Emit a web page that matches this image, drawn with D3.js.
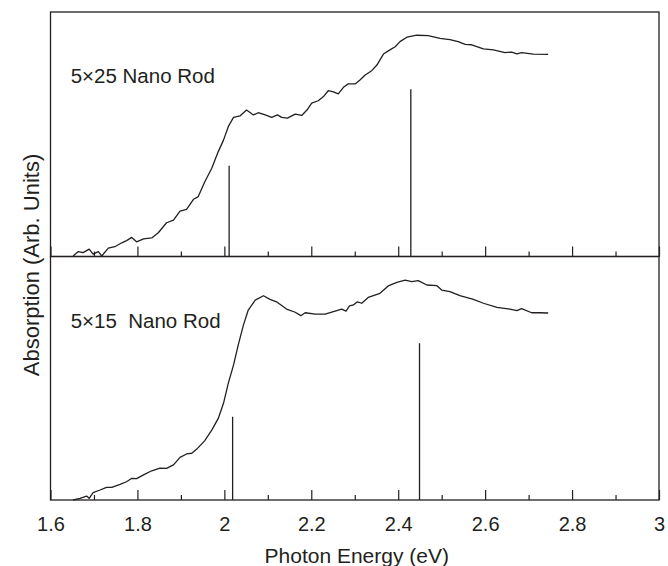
<!DOCTYPE html>
<html>
<head>
<meta charset="utf-8">
<script src="https://cdn.jsdelivr.net/npm/d3@7"></script>
<style>
  html, body { margin: 0; padding: 0; background: #fff; }
  svg { display: block; }
  text { font-family: "Liberation Sans", Arial, Helvetica, sans-serif; fill: #231f20; }
</style>
</head>
<body>
<svg id="chart" width="668" height="566"></svg>
<script>
// ---- data ----
const energyTop = [1.652,1.664,1.675,1.689,1.698,1.71,1.718,1.733,1.748,1.764,1.775,1.787,1.798,1.814,1.833,1.848,1.867,1.883,1.898,1.913,1.929,1.94,1.955,1.971,1.986,1.998,2.009,2.021,2.036,2.051,2.067,2.078,2.094,2.109,2.122,2.132,2.145,2.163,2.178,2.19,2.201,2.216,2.228,2.239,2.251,2.262,2.274,2.285,2.301,2.312,2.324,2.339,2.351,2.366,2.381,2.393,2.404,2.42,2.443,2.469,2.496,2.519,2.538,2.554,2.569,2.596,2.619,2.646,2.661,2.673,2.684,2.711,2.745];
const absorptionTop = [0.002,0.02,0.016,0.03,0.01,0.02,0.002,0.034,0.04,0.056,0.065,0.078,0.06,0.072,0.076,0.097,0.138,0.149,0.186,0.193,0.234,0.245,0.306,0.361,0.429,0.476,0.531,0.569,0.575,0.599,0.579,0.588,0.579,0.569,0.579,0.569,0.566,0.582,0.577,0.599,0.627,0.637,0.654,0.678,0.673,0.665,0.692,0.706,0.706,0.722,0.742,0.76,0.783,0.828,0.845,0.858,0.879,0.897,0.905,0.903,0.892,0.887,0.879,0.868,0.866,0.849,0.845,0.834,0.836,0.829,0.834,0.828,0.827];

const energyBottom = [1.652,1.668,1.683,1.689,1.698,1.714,1.729,1.741,1.76,1.775,1.787,1.798,1.814,1.833,1.852,1.867,1.883,1.898,1.913,1.925,1.936,1.955,1.971,1.986,1.998,2.009,2.021,2.032,2.044,2.055,2.071,2.09,2.105,2.12,2.143,2.163,2.176,2.186,2.209,2.232,2.251,2.27,2.28,2.288,2.297,2.306,2.316,2.331,2.358,2.377,2.397,2.416,2.431,2.446,2.466,2.489,2.5,2.519,2.542,2.573,2.596,2.627,2.657,2.673,2.684,2.707,2.726,2.745];
const absorptionBottom = [0,0.007,0.016,0.007,0.03,0.041,0.052,0.052,0.064,0.075,0.089,0.088,0.103,0.12,0.131,0.13,0.144,0.175,0.189,0.192,0.208,0.244,0.287,0.335,0.397,0.479,0.554,0.637,0.719,0.78,0.821,0.839,0.824,0.814,0.784,0.771,0.757,0.769,0.763,0.763,0.774,0.784,0.776,0.797,0.801,0.814,0.808,0.832,0.849,0.879,0.894,0.903,0.897,0.901,0.883,0.88,0.862,0.856,0.839,0.824,0.808,0.791,0.784,0.778,0.786,0.769,0.769,0.768];

const stickEnergyTop = [2.011, 2.429];
const stickHeightTop = [0.371, 0.684];
const stickEnergyBottom = [2.019, 2.449];
const stickHeightBottom = [0.342, 0.644];

const majorTicks = [1.6,1.8,2.0,2.2,2.4,2.6,2.8,3.0];
const majorTickLabels = ["1.6","1.8","2","2.2","2.4","2.6","2.8","3"];
const minorTicks = [1.7,1.9,2.1,2.3,2.5,2.7,2.9];

const panelLabels = ["5\u00d725 Nano Rod", "5\u00d715\u00a0 Nano Rod"];

// ---- layout ----
(function () {
const svg = d3.select("#chart");
const mLeft = 50.5, mRight = 659, mTop = 12, mMid = 256.5, mBottom = 500;
const ink = "#231f20";

const x = d3.scaleLinear().domain([1.6, 3.0]).range([mLeft, mRight]);
const yTop = d3.scaleLinear().domain([0, 1]).range([mMid, mTop]);
const yBot = d3.scaleLinear().domain([0, 1]).range([mBottom, mMid]);

const panels = [
  {y: yTop, e: energyTop, a: absorptionTop, se: stickEnergyTop, sh: stickHeightTop, base: mMid, label: panelLabels[0], ly: 82.7},
  {y: yBot, e: energyBottom, a: absorptionBottom, se: stickEnergyBottom, sh: stickHeightBottom, base: mBottom, label: panelLabels[1], ly: 328.3}
];

panels.forEach((p, i) => {
  const g = svg.append("g");
  g.append("rect")
    .attr("x", mLeft).attr("y", p.y(1)).attr("width", mRight - mLeft).attr("height", p.y(0) - p.y(1))
    .attr("fill", "none").attr("stroke", ink).attr("stroke-width", 1.3);

  const major = d3.axisBottom(x).tickValues(majorTicks).tickSize(-10).tickPadding(17)
    .tickFormat((d, k) => i === 1 ? majorTickLabels[k] : "");
  const minor = d3.axisBottom(x).tickValues(minorTicks).tickSize(-5).tickFormat("");
  const ga = g.append("g").attr("transform", `translate(0,${p.base})`).call(major);
  const gm = g.append("g").attr("transform", `translate(0,${p.base})`).call(minor);
  [ga, gm].forEach(s => {
    s.select(".domain").remove();
    s.selectAll("line").attr("stroke", ink).attr("stroke-width", 1.2);
  });
  ga.selectAll("text").attr("font-size", 20).attr("fill", ink)
    .style("font-family", '"Liberation Sans", Arial, sans-serif');

  g.selectAll("line.stick").data(p.se).join("line").attr("class", "stick")
    .attr("x1", d => x(d)).attr("x2", d => x(d))
    .attr("y1", p.y(0)).attr("y2", (d, k) => p.y(p.sh[k]))
    .attr("stroke", ink).attr("stroke-width", 1.3);

  const line = d3.line().x(d => x(d[0])).y(d => p.y(d[1]));
  g.append("path").datum(p.e.map((v, k) => [v, p.a[k]]))
    .attr("d", line).attr("fill", "none").attr("stroke", ink).attr("stroke-width", 1.3)
    .attr("stroke-linejoin", "round");

  g.append("text").attr("x", 70.7).attr("y", p.ly).attr("font-size", 20.5).text(p.label);
});

svg.append("text").attr("x", (mLeft + mRight) / 2 + 2).attr("y", 562.5)
  .attr("text-anchor", "middle").attr("font-size", 21).text("Photon Energy (eV)");
svg.append("text").attr("transform", "translate(39,265) rotate(-90)")
  .attr("text-anchor", "middle").attr("font-size", 22).text("Absorption (Arb. Units)");
})();
</script>
</body>
</html>
